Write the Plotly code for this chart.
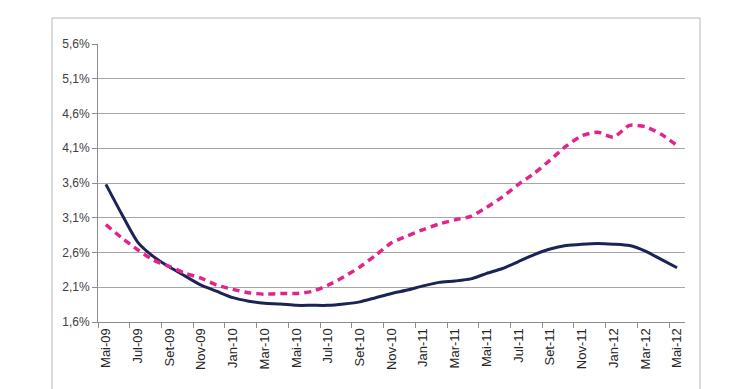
import plotly.graph_objects as go

months = ["Mai-09","Jun-09","Jul-09","Ago-09","Set-09","Out-09","Nov-09","Dez-09",
          "Jan-10","Fev-10","Mar-10","Abr-10","Mai-10","Jun-10","Jul-10","Ago-10",
          "Set-10","Out-10","Nov-10","Dez-10","Jan-11","Fev-11","Mar-11","Abr-11",
          "Mai-11","Jun-11","Jul-11","Ago-11","Set-11","Out-11","Nov-11","Dez-11",
          "Jan-12","Fev-12","Mar-12","Abr-12","Mai-12"]

navy = [3.58, 3.15, 2.75, 2.54, 2.39, 2.26, 2.13, 2.04, 1.95, 1.90, 1.87, 1.86,
        1.84, 1.84, 1.84, 1.86, 1.89, 1.95, 2.01, 2.06, 2.12, 2.17, 2.19, 2.22,
        2.30, 2.37, 2.47, 2.57, 2.65, 2.70, 2.72, 2.73, 2.72, 2.70, 2.62, 2.50, 2.38]

magenta = [3.00, 2.81, 2.64, 2.49, 2.40, 2.30, 2.23, 2.13, 2.07, 2.02, 2.00, 2.01,
           2.01, 2.04, 2.13, 2.25, 2.39, 2.56, 2.74, 2.84, 2.93, 3.01, 3.07, 3.12,
           3.25, 3.40, 3.58, 3.74, 3.93, 4.13, 4.28, 4.33, 4.26, 4.43, 4.41, 4.30, 4.14]

y_ticks = [1.6, 2.1, 2.6, 3.1, 3.6, 4.1, 4.6, 5.1, 5.6]

xi = list(range(len(months)))
fig = go.Figure()
fig.add_trace(go.Scatter(x=xi, y=[v/100 for v in navy], mode="lines",
                         line=dict(color="#1b2456", width=3, shape="spline", smoothing=0.6),
                         showlegend=False))
fig.add_trace(go.Scatter(x=xi, y=[v/100 for v in magenta], mode="lines",
                         line=dict(color="#e3238a", width=3.5, dash="7px,5px", shape="spline", smoothing=0.6),
                         showlegend=False))

# page body has an 8px offset; figure coords = reference pixels - 8
W, H = 732, 381
L, R, T, B = 90, 55, 36, 67
pw, ph = W - L - R, H - T - B

def px(xp):
    return (xp - 8 - L) / pw
def py(yp):
    return 1 - (yp - 8 - T) / ph

fig.update_layout(
    width=W, height=H, margin=dict(l=L, r=R, t=T, b=B),
    paper_bgcolor="white", plot_bgcolor="white",
    separators=",.",
    font=dict(family="Liberation Sans Narrow, Arial Narrow, Liberation Sans, sans-serif", color="#404040"),
    shapes=[dict(type="rect", xref="paper", yref="paper",
                 x0=px(52), x1=px(700), y0=py(400), y1=py(18),
                 line=dict(color="#b8b8b8", width=1), layer="below")],
)
fig.update_xaxes(
    range=[-0.5, len(months) - 0.5],
    tickmode="array", tickvals=xi[::2], ticktext=months[::2],
    tickangle=-90, ticks="", tickfont=dict(size=13, color="#262626"),
    showgrid=False, zeroline=False,
    showline=True, linecolor="#8c8c8c", linewidth=1,
    minor=dict(tickmode="array", tickvals=[i - 0.5 for i in range(0, len(months) + 1, 2)],
               ticks="outside", ticklen=5, tickcolor="#8c8c8c", showgrid=False),
)
fig.update_yaxes(
    range=[0.016, 0.056], tickmode="array", tickvals=[v/100 for v in y_ticks],
    tickformat=".1%", tickfont=dict(size=12, color="#404040"),
    ticks="outside", ticklen=5, tickcolor="#8c8c8c",
    showgrid=True, gridcolor="#a6a6a6", gridwidth=1,
    zeroline=False, showline=True, linecolor="#8c8c8c", linewidth=1,
)
fig.write_html("out.html")
